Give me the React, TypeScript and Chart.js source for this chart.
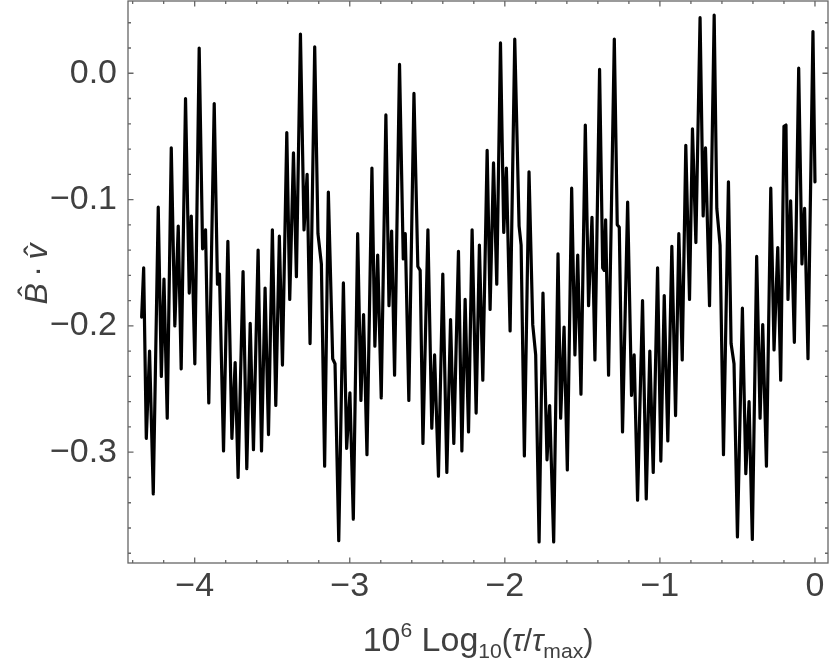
import { useEffect, useRef } from "react";
import { Chart, registerables } from "chart.js";

Chart.register(...registerables);

// x: 10^6 Log10(tau/tau_max), y: B-hat . v-hat
const X_VALUES = [
  -4.342, -4.329, -4.312, -4.291, -4.267, -4.235, -4.215, -4.198, -4.177, -4.151,
  -4.128, -4.106, -4.087, -4.059, -4.035, -4.022, -3.999, -3.971, -3.949, -3.930,
  -3.909, -3.874, -3.853, -3.840, -3.814, -3.786, -3.760, -3.739, -3.720, -3.688,
  -3.664, -3.642, -3.621, -3.591, -3.569, -3.546, -3.524, -3.499, -3.477, -3.454,
  -3.434, -3.406, -3.387, -3.363, -3.344, -3.318, -3.295, -3.275, -3.256, -3.226,
  -3.205, -3.183, -3.162, -3.138, -3.110, -3.095, -3.071, -3.041, -3.020, -2.999,
  -2.977, -2.949, -2.928, -2.911, -2.889, -2.857, -2.838, -2.820, -2.797, -2.767,
  -2.747, -2.730, -2.711, -2.679, -2.655, -2.642, -2.619, -2.586, -2.561, -2.546,
  -2.528, -2.496, -2.471, -2.453, -2.428, -2.400, -2.374, -2.350, -2.329, -2.299,
  -2.277, -2.256, -2.234, -2.211, -2.185, -2.164, -2.142, -2.114, -2.095, -2.073,
  -2.052, -2.028, -2.007, -1.990, -1.966, -1.936, -1.908, -1.895, -1.874, -1.844,
  -1.820, -1.801, -1.779, -1.754, -1.728, -1.711, -1.685, -1.657, -1.640, -1.618,
  -1.597, -1.569, -1.548, -1.530, -1.509, -1.481, -1.460, -1.438, -1.419, -1.389,
  -1.369, -1.359, -1.350, -1.331, -1.294, -1.275, -1.262, -1.241, -1.208, -1.183,
  -1.166, -1.144, -1.112, -1.088, -1.065, -1.043, -1.015, -0.994, -0.972, -0.949,
  -0.923, -0.899, -0.878, -0.856, -0.833, -0.809, -0.790, -0.768, -0.741, -0.721,
  -0.706, -0.680, -0.650, -0.633, -0.612, -0.590, -0.558, -0.541, -0.522, -0.500,
  -0.468, -0.446, -0.425, -0.404, -0.376, -0.354, -0.337, -0.313, -0.285, -0.264,
  -0.240, -0.221, -0.200, -0.187, -0.174, -0.157, -0.133, -0.105, -0.084, -0.067,
  -0.045, -0.013, 0,
];

const Y_VALUES = [
  -0.193, -0.154, -0.289, -0.220, -0.333, -0.106, -0.240, -0.163, -0.273, -0.059,
  -0.200, -0.121, -0.234, -0.020, -0.174, -0.113, -0.230, 0.020, -0.139, -0.124,
  -0.261, -0.024, -0.167, -0.159, -0.299, -0.133, -0.289, -0.229, -0.320, -0.157,
  -0.313, -0.198, -0.298, -0.140, -0.299, -0.170, -0.286, -0.124, -0.263, -0.129,
  -0.231, -0.047, -0.179, -0.063, -0.161, 0.031, -0.124, -0.080, -0.214, 0.021,
  -0.127, -0.151, -0.311, -0.094, -0.226, -0.230, -0.370, -0.166, -0.297, -0.253,
  -0.353, -0.127, -0.259, -0.191, -0.302, -0.075, -0.216, -0.144, -0.257, -0.033,
  -0.184, -0.125, -0.239, 0.007, -0.147, -0.127, -0.259, -0.016, -0.153, -0.156,
  -0.293, -0.124, -0.281, -0.223, -0.319, -0.159, -0.316, -0.195, -0.293, -0.141,
  -0.299, -0.179, -0.284, -0.124, -0.269, -0.136, -0.243, -0.061, -0.187, -0.071,
  -0.167, 0.024, -0.126, -0.075, -0.204, 0.027, -0.121, -0.136, -0.303, -0.078,
  -0.199, -0.223, -0.371, -0.174, -0.306, -0.263, -0.371, -0.143, -0.273, -0.201,
  -0.314, -0.091, -0.223, -0.144, -0.254, -0.041, -0.184, -0.114, -0.227, 0.003,
  -0.154, -0.156, -0.116, -0.239, 0.027, -0.120, -0.122, -0.284, -0.102, -0.255,
  -0.223, -0.338, -0.180, -0.337, -0.220, -0.316, -0.154, -0.307, -0.176, -0.291,
  -0.137, -0.271, -0.127, -0.227, -0.057, -0.179, -0.044, -0.134, 0.044, -0.113,
  -0.059, -0.184, 0.046, -0.107, -0.136, -0.302, -0.086, -0.214, -0.230, -0.367,
  -0.186, -0.317, -0.260, -0.369, -0.145, -0.273, -0.199, -0.311, -0.091, -0.219,
  -0.138, -0.243, -0.042, -0.041, -0.179, -0.101, -0.213, 0.004, -0.151, -0.107,
  -0.226, 0.033, -0.086,
];

const X_TICKS = [-4, -3, -2, -1, 0];
const Y_TICKS = [-0.3, -0.2, -0.1, 0];
const X_MINOR_STEP = 0.2;
const Y_MINOR_STEP = 0.02;
const X_MIN = -4.43;
const X_MAX = 0.084;
const Y_MIN = -0.3877;
const Y_MAX = 0.0572;

const FONT = "'Liberation Sans', Arial, sans-serif";
const TEXT_COLOR = "#404040";
const FRAME_COLOR = "#666666";
const TICK_SIZE = 34;

type Seg = { t: string; size: number; dy: number; italic?: boolean };

function drawRich(ctx: CanvasRenderingContext2D, segs: Seg[], cx: number, baseline: number) {
  const widths: number[] = [];
  let total = 0;
  for (const s of segs) {
    ctx.font = `${s.italic ? "italic " : ""}${s.size}px ${FONT}`;
    const w = ctx.measureText(s.t).width;
    widths.push(w);
    total += w;
  }
  let x = cx - total / 2;
  ctx.textAlign = "left";
  ctx.textBaseline = "alphabetic";
  segs.forEach((s, i) => {
    ctx.font = `${s.italic ? "italic " : ""}${s.size}px ${FONT}`;
    ctx.fillText(s.t, x, baseline + s.dy);
    x += widths[i];
  });
}

const framePlugin = {
  id: "mmaFrame",
  afterDraw(chart: any) {
    const { ctx, chartArea: a, scales } = chart;
    const xs = scales.x;
    const ys = scales.y;
    ctx.save();
    ctx.strokeStyle = FRAME_COLOR;
    ctx.lineWidth = 1.3;
    ctx.strokeRect(a.left, a.top, a.right - a.left, a.bottom - a.top);

    const majorLen = 5.5;
    const minorLen = 3;
    ctx.beginPath();
    for (let k = -25; k <= 2; k++) {
      const v = k * X_MINOR_STEP;
      if (v < X_MIN || v > X_MAX) continue;
      const isMajor = X_TICKS.some((t) => Math.abs(t - v) < 1e-9);
      const len = isMajor ? majorLen : minorLen;
      const px = xs.getPixelForValue(v);
      ctx.moveTo(px, a.bottom);
      ctx.lineTo(px, a.bottom - len);
      ctx.moveTo(px, a.top);
      ctx.lineTo(px, a.top + len);
    }
    for (let k = -22; k <= 4; k++) {
      const v = k * Y_MINOR_STEP;
      if (v < Y_MIN || v > Y_MAX) continue;
      const isMajor = Y_TICKS.some((t) => Math.abs(t - v) < 1e-9);
      const len = isMajor ? majorLen : minorLen;
      const py = ys.getPixelForValue(v);
      ctx.moveTo(a.left, py);
      ctx.lineTo(a.left + len, py);
      ctx.moveTo(a.right, py);
      ctx.lineTo(a.right - len, py);
    }
    ctx.stroke();

    // x-axis title: 10^6 Log_10(tau/tau_max)
    ctx.fillStyle = TEXT_COLOR;
    const F = 34;
    const segs: Seg[] = [
      { t: "10", size: F, dy: 0 },
      { t: "6", size: F * 0.62, dy: -F * 0.42 },
      { t: " Log", size: F, dy: 0 },
      { t: "10", size: F * 0.62, dy: F * 0.2 },
      { t: "(", size: F * 0.9, dy: 0 },
      { t: "\u03C4", size: F * 0.9, dy: 0, italic: true },
      { t: "/", size: F * 0.9, dy: 0 },
      { t: "\u03C4", size: F * 0.9, dy: 0, italic: true },
      { t: "max", size: F * 0.62, dy: F * 0.2 },
      { t: ")", size: F * 0.9, dy: 0 },
    ];
    drawRich(ctx, segs, (a.left + a.right) / 2, 651);

    // y-axis title: B-hat . v-hat (rotated)
    const G = 32;
    ctx.translate(36, 274);
    ctx.rotate(-Math.PI / 2);
    const bFont = `italic ${G}px ${FONT}`;
    const rFont = `${G}px ${FONT}`;
    ctx.font = bFont;
    const wB = ctx.measureText("B").width;
    const wv = ctx.measureText("v").width;
    ctx.font = rFont;
    const wDot = ctx.measureText("\u2009\u00B7\u2009").width;
    const total = wB + wDot + wv;
    let u = -total / 2;
    const base = 11;
    ctx.textAlign = "left";
    ctx.textBaseline = "alphabetic";
    ctx.font = bFont;
    ctx.fillText("B", u, base);
    ctx.font = rFont;
    ctx.textAlign = "center";
    ctx.fillText("\u02C6", u + wB * 0.5 + G * 0.08, base - G * 0.2);
    ctx.textAlign = "left";
    u += wB;
    ctx.fillText("\u2009\u00B7\u2009", u, base);
    u += wDot;
    ctx.font = bFont;
    ctx.fillText("v", u, base);
    ctx.font = rFont;
    ctx.textAlign = "center";
    ctx.fillText("\u02C6", u + wv * 0.5 + G * 0.04, base);
    ctx.restore();
  },
};

export default function App() {
  const ref = useRef<HTMLCanvasElement | null>(null);

  useEffect(() => {
    if (!ref.current) return;
    const points = X_VALUES.map((x, i) => ({ x, y: Y_VALUES[i] }));
    const chart = new Chart(ref.current, {
      type: "line",
      data: {
        datasets: [
          {
            data: points,
            borderColor: "#000000",
            borderWidth: 3.2,
            pointRadius: 0,
            fill: false,
            tension: 0,
            borderJoinStyle: "round",
            borderCapStyle: "round",
          },
        ],
      },
      options: {
        animation: false,
        responsive: false,
        maintainAspectRatio: false,
        devicePixelRatio: 1,
        layout: { padding: { top: 1, right: 2, left: 0, bottom: 0 } },
        plugins: {
          legend: { display: false },
          tooltip: { enabled: false },
          title: { display: false },
        },
        scales: {
          x: {
            type: "linear",
            min: X_MIN,
            max: X_MAX,
            grid: { display: false, drawTicks: false },
            border: { display: false },
            afterBuildTicks: (scale: any) => {
              scale.ticks = X_TICKS.map((v) => ({ value: v }));
            },
            afterFit: (scale: any) => {
              scale.height = 100;
              scale.paddingLeft = 0;
              scale.paddingRight = 0;
            },
            ticks: {
              autoSkip: false,
              maxRotation: 0,
              minRotation: 0,
              padding: 3,
              color: TEXT_COLOR,
              font: { family: FONT, size: TICK_SIZE, lineHeight: 1.2 },
              callback: (v: any) => (v === 0 ? "0" : "\u2212" + Math.abs(v)),
            },
          },
          y: {
            type: "linear",
            min: Y_MIN,
            max: Y_MAX,
            grid: { display: false, drawTicks: false },
            border: { display: false },
            afterBuildTicks: (scale: any) => {
              scale.ticks = Y_TICKS.map((v) => ({ value: v }));
            },
            afterFit: (scale: any) => {
              scale.width = 128;
              scale.paddingTop = 0;
              scale.paddingBottom = 0;
            },
            ticks: {
              autoSkip: false,
              padding: 11,
              color: TEXT_COLOR,
              font: { family: FONT, size: TICK_SIZE, lineHeight: 1.2 },
              callback: (v: any) =>
                Math.abs(v) < 1e-9 ? "0.0" : "\u2212" + Math.abs(v).toFixed(1),
            },
          },
        },
      } as any,
      plugins: [framePlugin],
    });
    return () => chart.destroy();
  }, []);

  return (
    <div style={{ position: "absolute", left: 0, top: 0, width: 830, height: 663, background: "#fff" }}>
      <canvas ref={ref} width={830} height={663} style={{ display: "block", width: 830, height: 663 }} />
    </div>
  );
}
